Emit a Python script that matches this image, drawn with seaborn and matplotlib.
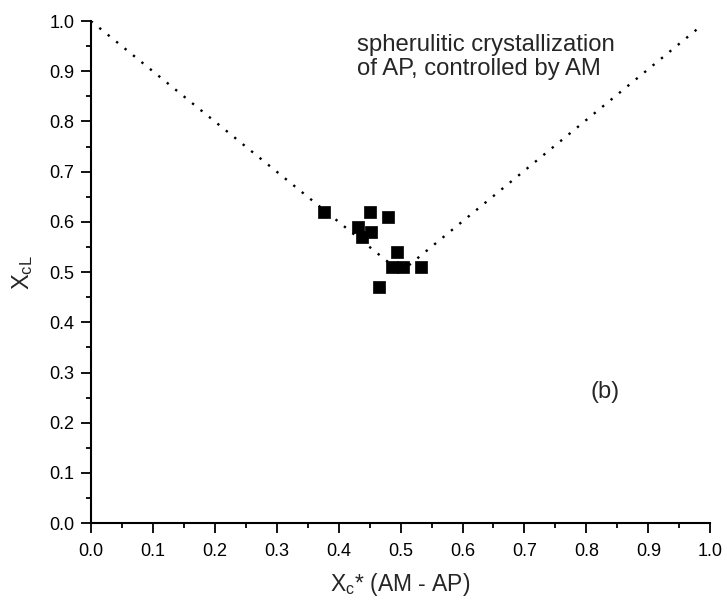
import matplotlib
matplotlib.use("Agg")
import matplotlib.pyplot as plt
import seaborn as sns
import numpy as np
import pandas as pd
from matplotlib.ticker import MultipleLocator, FormatStrFormatter

# measured points
xc_star = [0.376, 0.450, 0.480, 0.432, 0.453, 0.438, 0.495, 0.486, 0.504, 0.533, 0.465]
xcl = [0.620, 0.620, 0.610, 0.590, 0.580, 0.570, 0.540, 0.510, 0.510, 0.510, 0.470]

# guide lines
left_x = [0.0, 0.5]
left_y = [1.0, 0.5]
right_x = [0.5, 0.98]
right_y = [0.5, 0.985]

sns.set_style("ticks")
plt.rcParams['font.family'] = ['Liberation Sans', 'DejaVu Sans']
plt.rcParams['mathtext.fontset'] = 'custom'
plt.rcParams['mathtext.rm'] = 'Liberation Sans'
plt.rcParams['mathtext.it'] = 'Liberation Sans'

fig = plt.figure(figsize=(7.27, 6.0), dpi=100)
ax = fig.add_axes([0.125, 0.128, 0.852, 0.837])

df = pd.DataFrame({"x": xc_star, "y": xcl})
guide_l = pd.DataFrame({"x": left_x, "y": left_y})
guide_r = pd.DataFrame({"x": right_x, "y": right_y})

sns.lineplot(data=guide_l, x="x", y="y", ax=ax, color="black",
             linestyle=(0, (1, 3.6)), linewidth=1.7, sort=False)
sns.lineplot(data=guide_r, x="x", y="y", ax=ax, color="black",
             linestyle=(0, (1, 3.6)), linewidth=1.7, sort=False)
sns.scatterplot(data=df, x="x", y="y", ax=ax, marker="s", s=66,
                color="black", edgecolor="black", linewidth=0.5, zorder=3)

ax.set_xlim(0, 1.0)
ax.set_ylim(0, 1.0)
ax.xaxis.set_major_locator(MultipleLocator(0.1))
ax.xaxis.set_minor_locator(MultipleLocator(0.05))
ax.yaxis.set_major_locator(MultipleLocator(0.1))
ax.yaxis.set_minor_locator(MultipleLocator(0.05))
ax.xaxis.set_major_formatter(FormatStrFormatter("%.1f"))
ax.yaxis.set_major_formatter(FormatStrFormatter("%.1f"))

sns.despine(ax=ax)
for sp in ["left", "bottom"]:
    ax.spines[sp].set_linewidth(1.5)
    ax.spines[sp].set_color("black")
ax.tick_params(which="major", direction="out", length=7, width=1.3,
               labelsize=13, colors="black")
ax.tick_params(axis="x", which="major", pad=7)
ax.tick_params(axis="y", which="major", pad=5)
ax.tick_params(which="minor", direction="out", length=3.5, width=1.3,
               colors="black")

ax.set_xlabel(r"$\mathrm{X_c}$* (AM - AP)", fontsize=16.5, labelpad=8)
ax.set_ylabel(r"$\mathrm{X_{cL}}$", fontsize=17, labelpad=10)

ax.text(0.43, 0.974, "spherulitic crystallization\nof AP, controlled by AM",
        fontsize=17.2, ha="left", va="top", linespacing=1.1)
ax.text(0.83, 0.262, "(b)", fontsize=17, ha="center", va="center")

fig.savefig("out.png", dpi=100)
